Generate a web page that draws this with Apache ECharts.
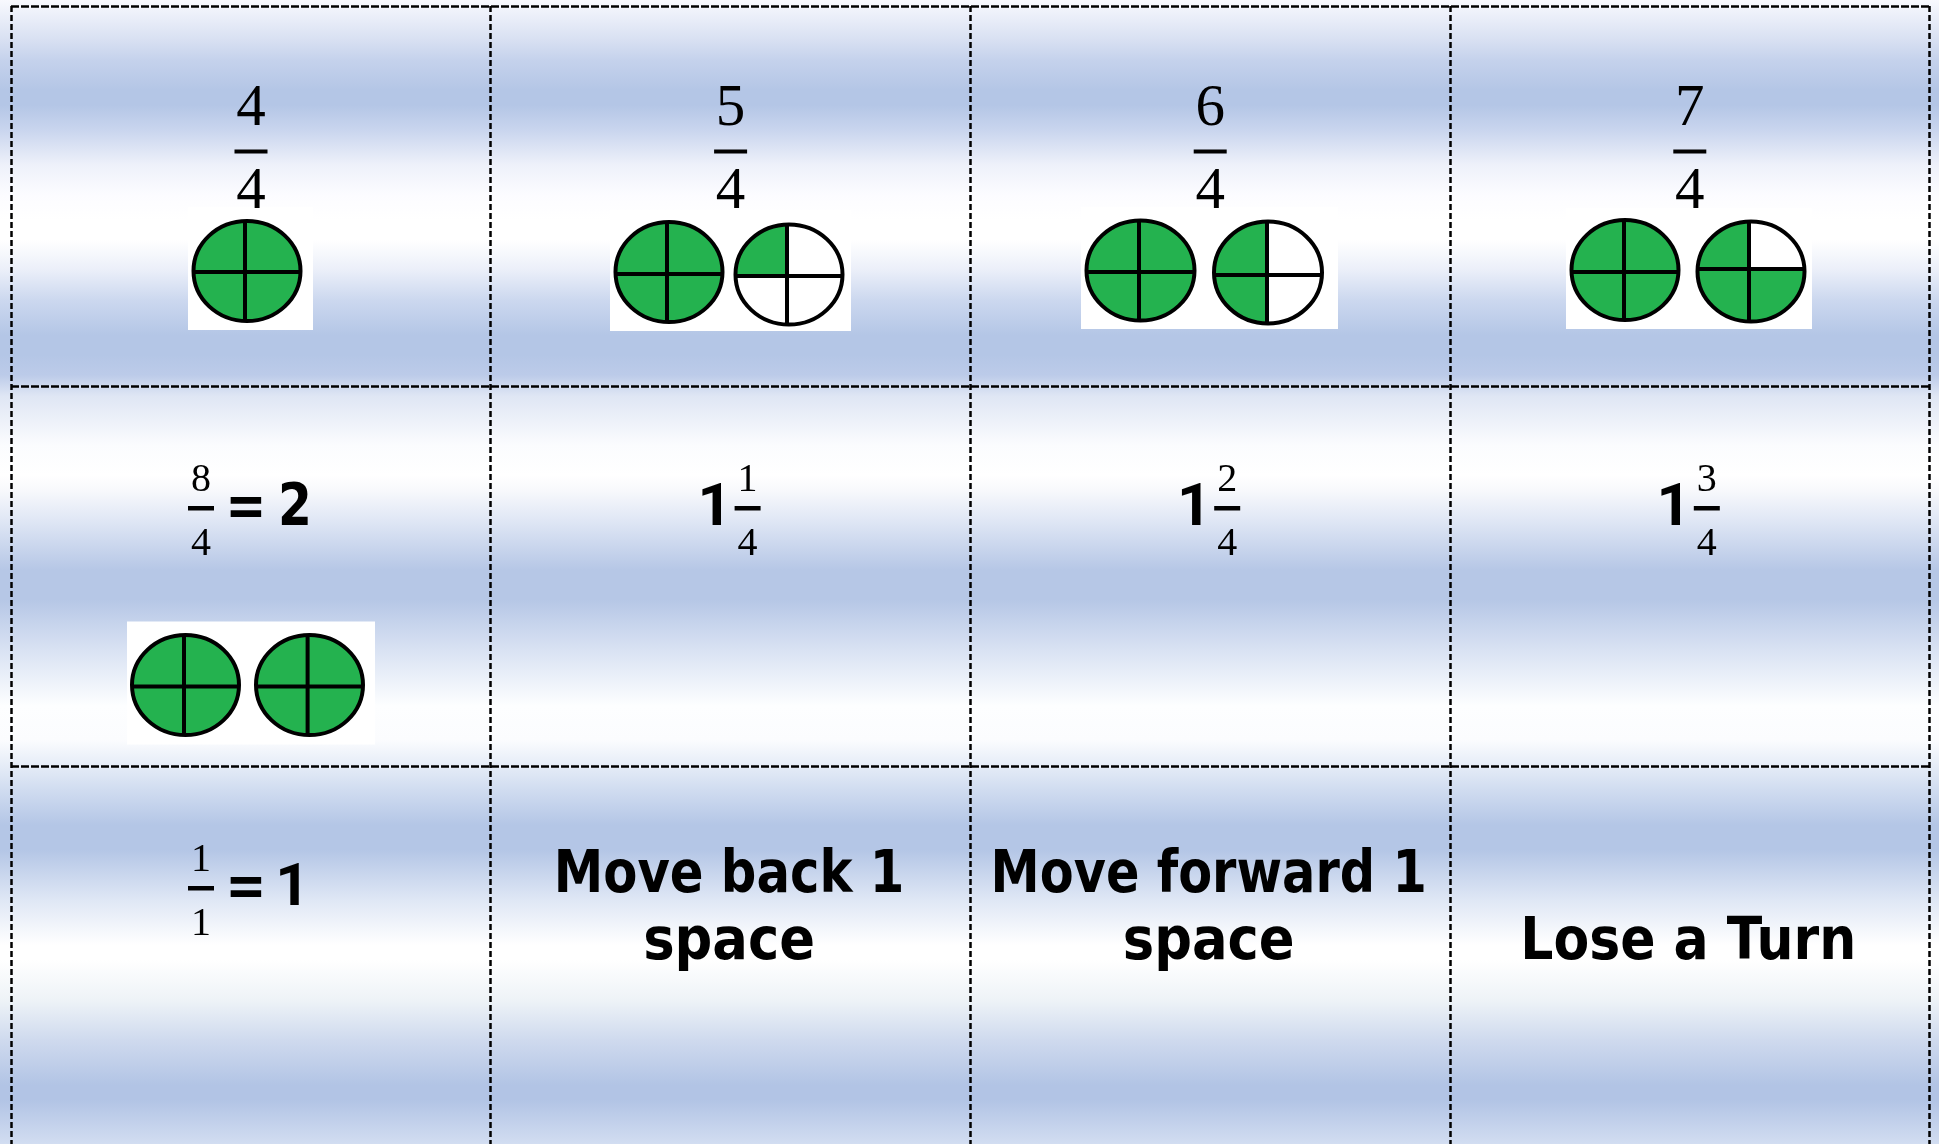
<!DOCTYPE html>
<html>
<head>
<meta charset="utf-8">
<style>
html, body { margin: 0; padding: 0; background: #fff; }
#main { width: 1939px; height: 1144px; }
</style>
<script src="https://cdn.jsdelivr.net/npm/echarts@6/dist/echarts.min.js"></script>
</head>
<body>
<div id="main"></div>
<script>
// card contents
var largeNumerators = [ '4', '5', '6', '7' ];
var largeDenominators = [ '4', '4', '4', '4' ];

var smallCols = [ 0, 1, 2, 3, 0 ];
var smallRows = [ 1, 1, 1, 1, 2 ];
var smallNumerators = [ '8', '1', '2', '3', '1' ];
var smallDenominators = [ '4', '4', '4', '4', '1' ];
var smallWholes = [ '', '1', '1', '1', '' ];
var smallResults = [ '2', '', '', '', '1' ];

var labelCols = [ 1, 2, 3 ];
var labelLine1 = [ 'Move back 1', 'Move forward 1', '' ];
var labelLine2 = [ 'space', 'space', 'Lose a Turn' ];

// filled quarters of every circle
var pieCols = [ 0, 1, 1, 2, 2, 3, 3, 0, 0 ];
var pieRows = [ 0, 0, 0, 0, 0, 0, 0, 1, 1 ];
var pieQuarters = [ 4, 4, 1, 4, 2, 4, 3, 4, 4 ];

// background bands of the sheet
var bandY = [ 0, 40, 60, 90, 105, 130, 165, 195, 220, 240, 270, 300, 335, 355, 375, 396, 445, 475, 490, 520, 570, 600, 650, 706, 740, 766, 790, 825, 850, 900, 945, 960, 1000, 1040, 1085, 1100, 1144 ];
var bandColors = [ '#f8f9fe', '#d8e0f2', '#c5d2ec', '#b4c6e6', '#b4c6e6', '#c9d5ee', '#eef1fa', '#fcfcff', '#ffffff', '#ffffff', '#ebeff9', '#ccd8ef', '#b4c6e6', '#b4c6e6', '#bccbe9', '#dfe6f4', '#fbfcfe', '#ffffff', '#f8f9fc', '#e0e7f5', '#b6c7e6', '#b6c7e6', '#d9e2f3', '#fdfeff', '#fbfcfe', '#e5ecf7', '#d0dcf0', '#b4c6e6', '#b4c6e6', '#dfe7f5', '#ffffff', '#ffffff', '#eef3f7', '#cfdaee', '#b2c4e5', '#b2c4e5', '#d2ddf1' ];

// pixel offsets inside a card
var picBoxes = [ [177, 201, 125, 123], [119.4, 204, 241, 121], [110.8, 201, 257, 122], [116.2, 202, 246, 121], [116, 235.5, 248, 123] ];
var pieShapes = [
	[236, 265, 53.5, 50, 234, 266], [178.4, 266, 53.5, 50, 176.4, 268], [298.4, 268.5, 53.5, 50, 296.4, 270],
	[170.3, 264.5, 54, 50, 168.8, 266], [297.8, 266.5, 54, 51, 296.8, 269], [175.2, 264, 53.5, 50, 174.2, 266],
	[301.2, 265.5, 53.5, 50, 299.2, 263], [174.5, 299, 53.5, 50, 173, 300.5], [298.5, 299, 53.5, 50, 296.6, 300.5]
];
var line1Scales = [ 0.857, 0.852, 1 ];
var line2Scales = [ 0.91, 0.91, 0.897 ];

var GREEN = '#24b24f';
var SERIF_LARGE = '59px "Liberation Serif"';
var SERIF_SMALL = '40px "Liberation Serif"';
var BOLD_LARGE = 'bold 58px "DejaVu Sans"';
var ONE_LARGE = 'bold 60px Roboto';
var BOLD_SCALE = 0.84;
var ROW_PX = 380;

function textEl(x, y, str, font, sx) {
	return {
		type : 'text',
		x : x,
		y : y,
		scaleX : sx || 1,
		style : { x : 0, y : 0, text : str, font : font, fill : '#000', align : 'center', verticalAlign : 'middle' }
	};
}

function barEl(x, y, w, h) {
	return { type : 'rect', shape : { x : x, y : y, width : w, height : h }, style : { fill : '#000' } };
}

// quadrant of an ellipse, cut off at the cross lines
function quarterPoints(s, signX, signY) {
	var pts = [];
	for (var k = 0; k < 96; k++) {
		var a = k / 96 * Math.PI * 2;
		var x = s[0] + s[2] * Math.cos(a);
		var y = s[1] + s[3] * Math.sin(a);
		x = signX < 0 ? Math.min(x, s[4]) : Math.max(x, s[4]);
		y = signY < 0 ? Math.min(y, s[5]) : Math.max(y, s[5]);
		pts.push([x, y]);
	}
	return pts;
}

// fills go top left, bottom left, bottom right, top right
var quarterOrder = [ [-1, -1], [-1, 1], [1, 1], [1, -1] ];

function renderPic(params, api) {
	var o = api.coord([api.value(0), api.value(1)]);
	var b = picBoxes[params.dataIndex];
	return { type : 'rect', shape : { x : o[0] + b[0], y : o[1] + b[1], width : b[2], height : b[3] }, style : { fill : '#fff' } };
}

function renderPie(params, api) {
	var o = api.coord([api.value(0), api.value(1)]);
	var s = pieShapes[params.dataIndex];
	var filled = api.value(2);
	var kids = [];
	kids.push({ type : 'ellipse', shape : { cx : s[0], cy : s[1], rx : s[2], ry : s[3] }, style : { fill : '#fff' } });
	for (var q = 0; q < filled; q++) {
		kids.push({ type : 'polygon', shape : { points : quarterPoints(s, quarterOrder[q][0], quarterOrder[q][1]) }, style : { fill : GREEN } });
	}
	kids.push({ type : 'ellipse', shape : { cx : s[0], cy : s[1], rx : s[2], ry : s[3] }, style : { fill : 'none', stroke : '#000', lineWidth : 4 } });
	kids.push({ type : 'line', shape : { x1 : s[4], y1 : s[1] - s[3], x2 : s[4], y2 : s[1] + s[3] }, style : { stroke : '#000', lineWidth : 4 } });
	kids.push({ type : 'line', shape : { x1 : s[0] - s[2], y1 : s[5], x2 : s[0] + s[2], y2 : s[5] }, style : { stroke : '#000', lineWidth : 4 } });
	return { type : 'group', x : o[0], y : o[1], children : kids };
}

function renderLarge(params, api) {
	var o = api.coord([api.value(0), api.value(1)]);
	var i = params.dataIndex;
	return { type : 'group', x : o[0], y : o[1], children : [
		textEl(240, 103, largeNumerators[i], SERIF_LARGE),
		barEl(223.5, 143.5, 33, 4),
		textEl(240, 186, largeDenominators[i], SERIF_LARGE)
	] };
}

function renderSmall(params, api) {
	var o = api.coord([api.value(0), api.value(1)]);
	var i = params.dataIndex;
	var hasWhole = smallWholes[i] !== '';
	var cx = hasWhole ? 257 : 190;
	var kids = [
		textEl(cx, 94, smallNumerators[i], SERIF_SMALL),
		barEl(cx - 13, 120, 26, 4.5),
		textEl(cx, 158, smallDenominators[i], SERIF_SMALL)
	];
	if (hasWhole) {
		kids.push(textEl(224, 124, smallWholes[i], ONE_LARGE));
	} else {
		kids.push(textEl(235, 124, '=', BOLD_LARGE, BOLD_SCALE));
		if (smallResults[i] === '2') {
			kids.push(textEl(284, 124, smallResults[i], BOLD_LARGE, BOLD_SCALE));
		} else {
			kids.push(textEl(281.5, 124, smallResults[i], ONE_LARGE));
		}
	}
	return { type : 'group', x : o[0], y : o[1], children : kids };
}

function renderLabel(params, api) {
	var o = api.coord([api.value(0), api.value(1)]);
	var i = params.dataIndex;
	var kids = [ textEl(238.5, 178, labelLine2[i], BOLD_LARGE, line2Scales[i]) ];
	if (labelLine1[i]) {
		kids.push(textEl(238.5, 111, labelLine1[i], BOLD_LARGE, line1Scales[i]));
	}
	return { type : 'group', x : o[0], y : o[1], children : kids };
}

var chart = echarts.init(document.getElementById('main'));

var bgStops = [];
for (var i = 0; i < bandY.length; i++) {
	bgStops.push({ offset : bandY[i] / 1144, color : bandColors[i] });
}

var option = {
	animation : false,
	backgroundColor : new echarts.graphic.LinearGradient(0, 0, 0, 1, bgStops),
	grid : { left : 11, top : 6, width : 1918.4, height : 1138 },
	xAxis : {
		type : 'value', min : 0, max : 4, interval : 1,
		axisLine : { show : false }, axisTick : { show : false }, axisLabel : { show : false },
		splitLine : { show : true, lineStyle : { color : '#000', width : 2.5, type : [6, 3] } }
	},
	yAxis : {
		type : 'value', min : 0, max : 1138 / ROW_PX, interval : 1, inverse : true,
		axisLine : { show : false }, axisTick : { show : false }, axisLabel : { show : false },
		splitLine : { show : true, showMaxLine : false, lineStyle : { color : '#000', width : 2.5, type : [8, 2] } }
	},
	series : [ {
		type : 'custom', clip : false, silent : true, renderItem : renderPic,
		data : [ [0, 0], [1, 0], [2, 0], [3, 0], [0, 1] ]
	}, {
		type : 'custom', clip : false, silent : true, renderItem : renderPie,
		data : pieCols.map(function(c, k) { return [c, pieRows[k], pieQuarters[k]]; })
	}, {
		type : 'custom', clip : false, silent : true, renderItem : renderLarge,
		data : largeNumerators.map(function(n, k) { return [k, 0]; })
	}, {
		type : 'custom', clip : false, silent : true, renderItem : renderSmall,
		data : smallCols.map(function(c, k) { return [c, smallRows[k]]; })
	}, {
		type : 'custom', clip : false, silent : true, renderItem : renderLabel,
		data : labelCols.map(function(c) { return [c, 2]; })
	} ]
};
chart.setOption(option);
</script>
</body>
</html>
